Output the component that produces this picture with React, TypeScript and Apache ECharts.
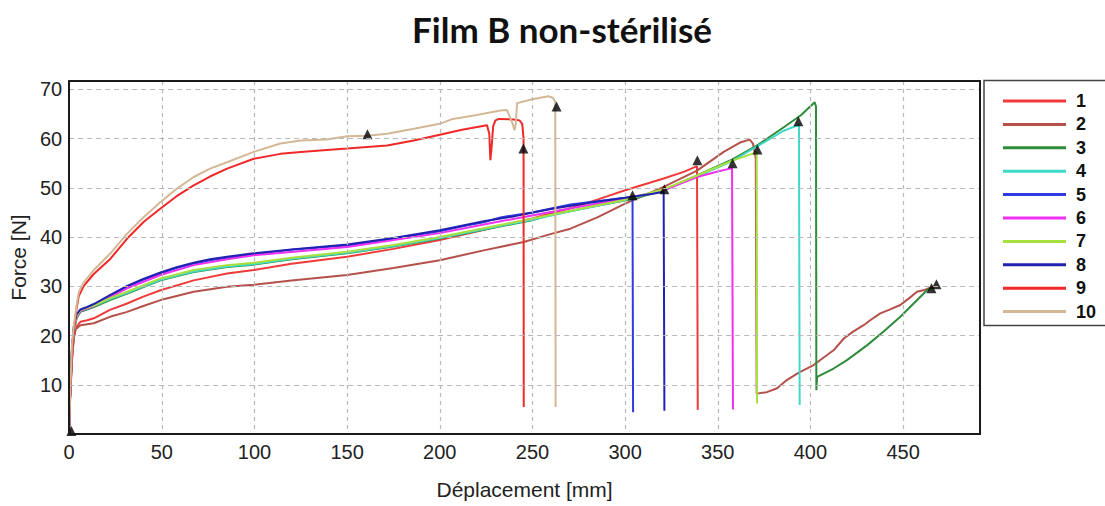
import React, { useEffect, useRef } from "react";
import * as echarts from "echarts";

const seriesNames = ["1", "2", "3", "4", "5", "6", "7", "8", "9", "10"];
const seriesColors = ["#f03a3a", "#b5504a", "#2e8b3a", "#40d8c8", "#2f3ae0", "#f030f0", "#a8e040", "#2222b0", "#f02828", "#d4b896"];

const xTicks = [0, 50, 100, 150, 200, 250, 300, 350, 400, 450];
const yTicks = [10, 20, 30, 40, 50, 60, 70];

const s1 = [[0,0],[0.5,7],[1.5,15],[2.5,19.5],[3.5,21.5],[6.1,22.8],[9.7,23.1],[13.3,23.5],[22,25.2],[31.3,26.5],[40,27.9],[49.3,29.2],[67.2,31.2],[85.2,32.6],[99.6,33.3],[120,34.6],[150,36],[175,37.6],[200,39.4],[225,41.6],[249.8,43.8],[270,45.8],[285,47.6],[300,49.5],[320.8,51.9],[332,53.3],[338.8,54.4],[339.2,4.9]];
const s2 = [[0,0],[0.5,7],[1.5,15],[2.5,19.5],[3.5,21.3],[6.1,22.1],[13.3,22.5],[22,23.8],[31.3,24.8],[40,26],[49.3,27.2],[67.2,28.9],[85.2,29.9],[99.6,30.3],[120,31.2],[150,32.3],[175,33.7],[200,35.3],[223.7,37.3],[245.3,39],[259.7,40.6],[270.5,41.7],[285,44],[300,46.8],[320.8,50.2],[338.8,53.5],[353.2,57.3],[362,59.2],[367.2,59.8],[369,59],[370.5,56],[371,8.2],[376.5,8.5],[382,9.3],[387.4,11],[394,12.5],[401.7,14],[407,15.5],[412.5,17],[418,19.4],[423,20.8],[428.7,22.1],[433,23.3],[437.7,24.5],[443,25.3],[448.5,26.2],[453,27.5],[457.5,28.9],[462,29.3],[467,30.1]];
const s3 = [[0,0],[0.5,8],[1.5,16],[2.5,20.5],[4,23.5],[6.1,24.8],[13.3,25.8],[22,27.2],[31.3,28.5],[49.3,31.2],[67.2,32.9],[85.2,33.9],[99.6,34.4],[120,35.5],[150,36.7],[175,38.1],[200,39.7],[225,41.6],[249.8,43.4],[259.7,44.5],[280,46],[304.6,47.8],[320.8,49.5],[338.8,52.5],[357,55.6],[371.2,58.6],[385.6,62.3],[395,64.8],[402.3,67.4],[403,66.5],[403.2,8.9],[403.6,11.6],[412.5,13.3],[419.7,15],[430.5,18],[439.5,20.8],[448.5,23.8],[455.7,26.5],[462.9,29.2],[465.3,29.7]];
const s4 = [[0,0],[0.5,8],[1.5,16],[2.5,20.8],[4,23.7],[6.1,25],[13.3,26],[22,27.4],[31.3,28.7],[49.3,31.3],[67.2,33],[85.2,34],[99.6,34.5],[120,35.6],[150,36.8],[175,38.2],[200,39.8],[225,41.7],[249.8,43.5],[270,45.2],[300,47.5],[320.8,49.6],[338.8,52.3],[357,55.3],[371.2,58.4],[385.6,61.6],[393.8,62.8],[394.2,5.9]];
const s5 = [[0,0],[0.5,8],[1.5,17],[2.5,21.5],[4,24],[6.1,25.2],[9.7,25.6],[13.3,26.2],[22,28],[31.3,29.9],[40,31.3],[49.3,32.6],[58,33.7],[67.2,34.6],[76,35.3],[85.2,35.8],[99.6,36.5],[120,37.4],[150,38.3],[175,39.7],[200,41.2],[215,42.4],[223.7,43],[232.7,44],[249.8,45],[270.5,46.6],[285,47.3],[300,48],[304,48.2],[304.3,4.4]];
const s6 = [[0,0],[0.5,8],[1.5,17],[2.5,21],[4,23.8],[6.1,25],[13.3,26],[22,27.8],[31.3,29.6],[49.3,32.3],[67.2,34.3],[85.2,35.5],[99.6,36.3],[150,38],[200,40.8],[230,43],[249.8,44.4],[270,45.8],[300,47.8],[320.8,49.5],[338.8,52.2],[350,53.3],[357.7,54],[358.2,5]];
const s7 = [[0,0],[0.5,8],[1.5,16.5],[2.5,21],[4,24],[6.1,25.2],[13.3,26.1],[22,27.6],[31.3,28.9],[49.3,31.6],[67.2,33.3],[85.2,34.3],[99.6,34.8],[120,35.8],[150,37],[175,38.4],[200,40],[225,41.9],[249.8,43.7],[270,45.3],[300,47.6],[320.8,49.7],[338.8,52.5],[357,55.4],[366,56.6],[371,57.2],[371.2,6.2]];
const s8 = [[0,0],[0.5,8],[1.5,17],[2.5,21.8],[4,24.3],[6.1,25.3],[9.7,25.8],[13.3,26.4],[22,28.2],[31.3,30.1],[40,31.5],[49.3,32.8],[58,33.9],[67.2,34.8],[76,35.5],[85.2,36],[99.6,36.7],[120,37.5],[150,38.5],[175,39.8],[200,41.4],[223.7,43.2],[240,44.2],[260,45.7],[280,46.9],[300,48],[315,48.8],[320.8,49.2],[321.2,4.7]];
const s9 = [[0,0],[0.5,7],[1.5,16],[2.5,21],[4,25.5],[5.2,28],[7.9,30.1],[13.3,32.5],[22.3,35.6],[31.3,39.7],[40.3,43.1],[49.3,45.8],[58,48.3],[67.2,50.5],[76,52.3],[85.2,53.9],[99.6,55.9],[114,56.9],[125,57.3],[139,57.7],[150,58],[171.6,58.6],[186,59.6],[200,60.8],[212,61.8],[225.5,62.7],[226.7,61],[227.3,55.6],[227.9,58],[228.8,62.5],[230,63.7],[232,64],[240,63.9],[243,63.7],[244.5,63],[245.2,60],[245.3,5.5]];
const s10 = [[0,0],[0.5,8],[1.5,18],[2.5,22],[4,26],[5.2,28.8],[7.9,30.8],[13.3,33.3],[22.3,36.7],[31.3,40.7],[40.3,44.1],[49.3,47.1],[58,49.8],[67.2,52.2],[76,53.9],[85.2,55.2],[99.6,57.3],[114,59],[125,59.6],[139,59.8],[150,60.5],[161,60.6],[171.6,61],[186,62],[200,63],[207,64],[220,64.8],[232.7,65.7],[236.3,65.8],[239.3,63],[240.3,61.7],[241,63],[241.7,67.2],[250,68],[258.5,68.6],[261,68.3],[262.3,67.5],[262.5,5.5]];

const allSeries = [s1, s2, s3, s4, s5, s6, s7, s8, s9, s10];

const breakMarkers = [[1.2,0.6],[161,60.9],[245.1,58],[263,66.5],[304,48.5],[321.2,49.7],[339,55.6],[358,55],[371.4,57.8],[393.5,63.5],[465.3,29.6],[468,30.4]];

const X_MIN = 0;
const X_MAX = 491.5;
const Y_MIN = 0;
const Y_MAX = 71.7;

export default function App() {
  const ref = useRef<HTMLDivElement>(null);
  useEffect(() => {
    if (!ref.current) return;
    const chart = echarts.init(ref.current, null, { renderer: "svg" });
    const font = "'Liberation Sans', Arial, sans-serif";
    const lineSeries = allSeries.map((d, i) => ({
      name: seriesNames[i],
      type: "line",
      data: d,
      showSymbol: false,
      symbol: "none",
      silent: true,
      lineStyle: { width: 2, color: seriesColors[i] },
      itemStyle: { color: seriesColors[i] },
      z: 2 + i,
    }));
    const frameAxis = {
      type: "value",
      axisLine: { show: true, onZero: false, lineStyle: { color: "#1a1a1a", width: 2 } },
      axisTick: { show: false },
      axisLabel: { show: false },
      splitLine: { show: false },
      z: 30,
    };
    chart.setOption({
      animation: false,
      backgroundColor: "#ffffff",
      grid: {
        left: 69,
        top: 81,
        right: 125,
        bottom: 72,
        show: false,
      },
      xAxis: [
        {
          type: "value",
          min: X_MIN,
          max: X_MAX,
          interval: 50,
          name: "Déplacement [mm]",
          nameLocation: "middle",
          nameGap: 45,
          nameTextStyle: { fontFamily: font, fontSize: 21, color: "#222" },
          axisLine: { show: true, onZero: false, lineStyle: { color: "#1a1a1a", width: 2 } },
          axisTick: { show: false },
          axisLabel: {
            fontFamily: font,
            fontSize: 20,
            color: "#222",
            margin: 8,
            showMaxLabel: false,
            formatter: (v: number) => (xTicks.includes(v) ? String(v) : ""),
          },
          splitLine: { show: true, lineStyle: { color: "#b8b8b8", type: [4, 4], width: 1.2 } },
          z: 30,
        },
        { ...frameAxis, position: "top", min: X_MIN, max: X_MAX },
      ],
      yAxis: [
        {
          type: "value",
          min: Y_MIN,
          max: Y_MAX,
          interval: 10,
          name: "Force [N]",
          nameLocation: "middle",
          nameRotate: 90,
          nameGap: 34,
          nameTextStyle: { fontFamily: font, fontSize: 21, color: "#222" },
          axisLine: { show: true, onZero: false, lineStyle: { color: "#1a1a1a", width: 2 } },
          axisTick: { show: false },
          axisLabel: {
            fontFamily: font,
            fontSize: 20,
            color: "#222",
            margin: 7,
            showMinLabel: false,
            showMaxLabel: false,
            formatter: (v: number) => (yTicks.includes(v) ? String(v) : ""),
          },
          splitLine: { show: true, lineStyle: { color: "#b8b8b8", type: [5, 4], width: 1.2 } },
          z: 30,
        },
        { ...frameAxis, position: "right", min: Y_MIN, max: Y_MAX },
      ],
      legend: {
        data: seriesNames,
        orient: "vertical",
        left: 1003,
        top: 92,
        padding: 0,
        icon: "rect",
        itemWidth: 63,
        itemHeight: 3,
        itemGap: 5.4,
        selectedMode: false,
        textStyle: {
          fontFamily: font,
          fontWeight: "bold",
          fontSize: 18,
          lineHeight: 18,
          color: "#111",
          padding: [0, 0, 0, 5],
        },
      },
      graphic: [
        {
          type: "rect",
          shape: { x: 984, y: 80.5, width: 130, height: 245 },
          style: { fill: "none", stroke: "#444", lineWidth: 1.5 },
          silent: true,
        },
        {
          type: "text",
          x: 562,
          y: 29,
          style: {
            text: "Film B non-stérilisé",
            align: "center",
            verticalAlign: "middle",
            fontFamily: "Lato, 'Open Sans', sans-serif",
            fontWeight: "bold",
            fontSize: 35,
            fill: "#111",
          },
          silent: true,
        },
      ],
      series: [
        ...lineSeries,
        {
          name: "markers",
          type: "scatter",
          data: breakMarkers,
          symbol: "triangle",
          symbolSize: 10,
          itemStyle: { color: "#000" },
          silent: true,
          z: 20,
        },
      ],
    });
    return () => chart.dispose();
  }, []);
  return (
    <div
      ref={ref}
      style={{ position: "fixed", left: 0, top: 0, width: 1105, height: 506, background: "#fff" }}
    />
  );
}
